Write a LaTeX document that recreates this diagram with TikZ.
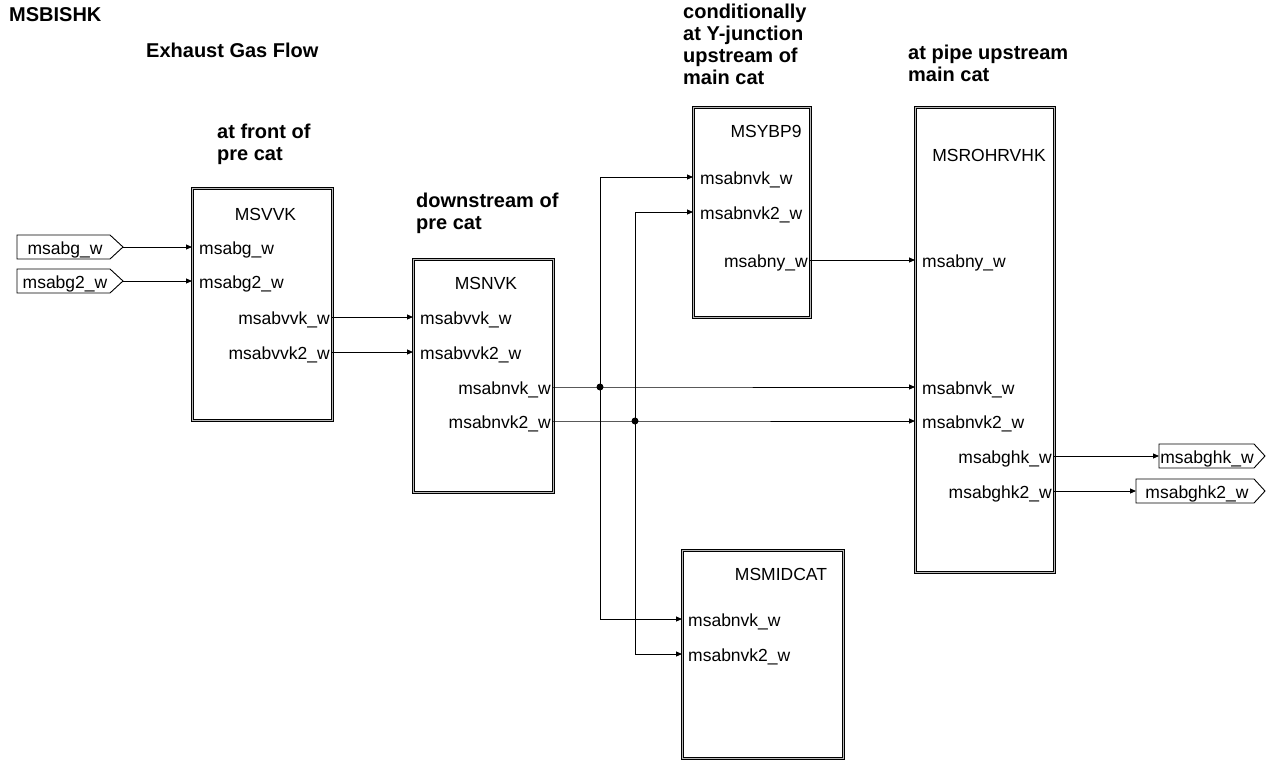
\documentclass[tikz,border=0pt]{standalone}
\usepackage{fontspec}
\setmainfont{Liberation Sans}
\usetikzlibrary{arrows.meta}
\begin{document}
\begin{tikzpicture}[x=1pt,y=-1pt,
  blk/.style={draw=black, line width=0.8pt, double=gray!55, double distance=1.4pt, inner sep=0, anchor=north west},
  lbl/.style={font=\fontsize{17.5}{20}\selectfont, inner sep=0},
  lin/.style={lbl, anchor=base west},
  lout/.style={lbl, anchor=base east},
  btitle/.style={lbl, anchor=base},
  ttl/.style={font=\fontsize{20}{22}\selectfont\bfseries, inner sep=0, align=left, anchor=north west},
  wire/.style={line width=0.9pt},
  arr/.style={wire, -{Triangle[length=6pt,width=5pt]}},
  jdot/.style={circle, fill=black, inner sep=0, minimum size=7pt},
  port/.style={draw=black, line width=0.9pt}
]
\useasboundingbox (0,0) rectangle (1268,760);

% ---------- headings ----------
\node[ttl, anchor=base west] (hMain) at (9,22) {MSBISHK};
\node[ttl, anchor=base west] (hFlow) at (146,58) {Exhaust Gas Flow};
\node[ttl] (hFront) at (217,124) {at front of\\pre cat};
\node[ttl] (hDown) at (416,193) {downstream of\\pre cat};
\node[ttl] (hCond) at (683,4) {conditionally\\at Y-junction\\upstream of\\main cat};
\node[ttl] (hPipe) at (908,45) {at pipe upstream\\main cat};

% ---------- blocks ----------
\node[blk, minimum width=140pt, minimum height=232pt] (vvk) at (192,188) {};
\node[blk, minimum width=140pt, minimum height=233pt] (nvk) at (413,259) {};
\node[blk, minimum width=117pt, minimum height=210pt] (ybp) at (693,107) {};
\node[blk, minimum width=139pt, minimum height=465pt] (rohr) at (915,107) {};
\node[blk, minimum width=161pt, minimum height=208pt] (mid) at (682,550) {};

\node[btitle] (tvvk) at (265.5,220) {MSVVK};
\node[btitle] (tnvk) at (486,289) {MSNVK};
\node[btitle] (tybp) at (766,137) {MSYBP9};
\node[btitle] (trohr) at (989,161) {MSROHRVHK};
\node[btitle] (tmid) at (781,580) {MSMIDCAT};

% ---------- pin labels ----------
\node[lin] (vvk-l1) at (199,254.5) {msabg\_w};
\node[lin] (vvk-l2) at (199,288.5) {msabg2\_w};
\node[lout] (vvk-l3) at (330,324.5) {msabvvk\_w};
\node[lout] (vvk-l4) at (330,359.5) {msabvvk2\_w};

\node[lin] (nvk-l1) at (420,324.5) {msabvvk\_w};
\node[lin] (nvk-l2) at (420,359.5) {msabvvk2\_w};
\node[lout] (nvk-l3) at (551,394.5) {msabnvk\_w};
\node[lout] (nvk-l4) at (551,428.5) {msabnvk2\_w};

\node[lin] (ybp-l1) at (700,184.5) {msabnvk\_w};
\node[lin] (ybp-l2) at (700,219.5) {msabnvk2\_w};
\node[lout] (ybp-l3) at (808,267.5) {msabny\_w};

\node[lin] (rohr-l1) at (922,267.5) {msabny\_w};
\node[lin] (rohr-l2) at (922,394.5) {msabnvk\_w};
\node[lin] (rohr-l3) at (922,428.5) {msabnvk2\_w};
\node[lout] (rohr-l4) at (1052,463.5) {msabghk\_w};
\node[lout] (rohr-l5) at (1052,498.5) {msabghk2\_w};

\node[lin] (mid-l1) at (688,626.5) {msabnvk\_w};
\node[lin] (mid-l2) at (688,661.5) {msabnvk2\_w};

% ---------- pin coordinates ----------
\coordinate (vvk-i1) at (192,247);
\coordinate (vvk-i2) at (192,281);
\coordinate (vvk-o1) at (332,317);
\coordinate (vvk-o2) at (332,352);
\coordinate (nvk-i1) at (413,317);
\coordinate (nvk-i2) at (413,352);
\coordinate (nvk-o1) at (553,387);
\coordinate (nvk-o2) at (553,421);
\coordinate (ybp-i1) at (693,177);
\coordinate (ybp-i2) at (693,212);
\coordinate (ybp-o1) at (810,260);
\coordinate (rohr-i1) at (915,260);
\coordinate (rohr-i2) at (915,387);
\coordinate (rohr-i3) at (915,421);
\coordinate (rohr-o1) at (1054,456);
\coordinate (rohr-o2) at (1054,491);
\coordinate (mid-i1) at (682,619);
\coordinate (mid-i2) at (682,654);

% ---------- external ports ----------
\draw[port] (17,235) -- (110,235) -- (123,247) -- (110,259) -- (17,259) -- cycle;
\node[lbl, anchor=base] (pin1) at (65,254.5) {msabg\_w};
\coordinate (pin1-tip) at (123,247);
\draw[port] (17,269) -- (110,269) -- (123,281) -- (110,293) -- (17,293) -- cycle;
\node[lbl, anchor=base] (pin2) at (65,288.5) {msabg2\_w};
\coordinate (pin2-tip) at (123,281);

\draw[port] (1159,444) -- (1254,444) -- (1265,456) -- (1254,468) -- (1159,468) -- cycle;
\node[lbl, anchor=base] (pout1) at (1207,463.5) {msabghk\_w};
\coordinate (pout1-in) at (1159,456);
\draw[port] (1136,479) -- (1254,479) -- (1265,491) -- (1254,503) -- (1136,503) -- cycle;
\node[lbl, anchor=base] (pout2) at (1197,498.5) {msabghk2\_w};
\coordinate (pout2-in) at (1136,491);

% ---------- junctions ----------
\coordinate (J1) at (600,387);
\coordinate (J2) at (635,421);

% ---------- connectors ----------
\draw[arr] (pin1-tip) -- (vvk-i1);
\draw[arr] (pin2-tip) -- (vvk-i2);
\draw[arr] (vvk-o1) -- (nvk-i1);
\draw[arr] (vvk-o2) -- (nvk-i2);
\draw[arr] (nvk-o1) -- (J1) -- (rohr-i2);
\draw[arr] (nvk-o2) -- (J2) -- (rohr-i3);
\draw[arr] (J1) |- (ybp-i1);
\draw[arr] (J1) |- (mid-i1);
\draw[arr] (J2) |- (ybp-i2);
\draw[arr] (J2) |- (mid-i2);
\draw[arr] (ybp-o1) -- (rohr-i1);
\draw[arr] (rohr-o1) -- (pout1-in);
\draw[arr] (rohr-o2) -- (pout2-in);

\node[jdot] (J1dot) at (J1) {};
\node[jdot] (J2dot) at (J2) {};
\end{tikzpicture}
\end{document}
